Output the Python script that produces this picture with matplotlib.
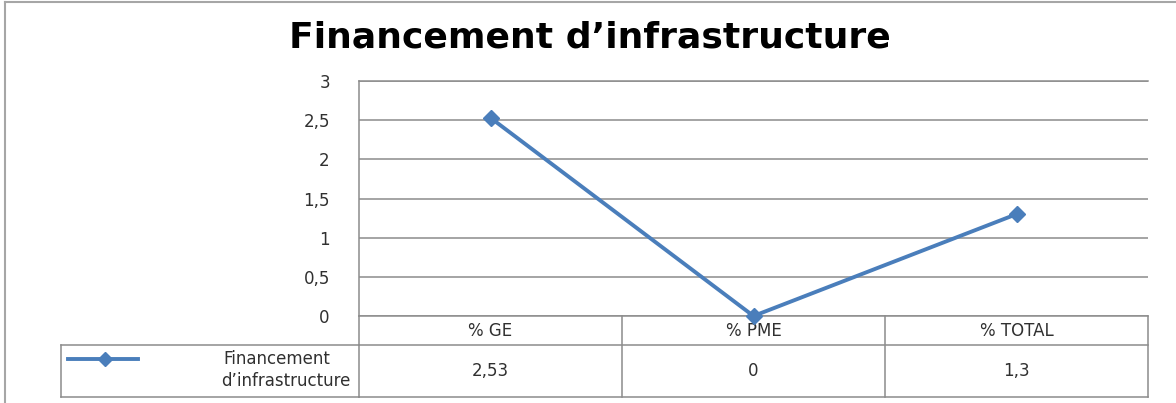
import matplotlib.pyplot as plt
from matplotlib.transforms import blended_transform_factory

# series
categories = ["% GE", "% PME", "% TOTAL"]
series_name = "Financement d\u2019infrastructure"
values = [2.53, 0, 1.3]
y_ticks = [0, 0.5, 1, 1.5, 2, 2.5, 3]

W, H = 1176, 403
blue = "#4A7EBB"
grey = "#8c8c8c"
txt = "#303030"
fs = 12


def fr(v):
    # french decimal comma
    return f"{v:g}".replace(".", ",")


fig = plt.figure(figsize=(W / 100, H / 100), dpi=100)

# overlay in pixel coords for frame, data table and legend key
over = fig.add_axes([0, 0, 1, 1], zorder=0)
over.set_xlim(0, W)
over.set_ylim(H, 0)
over.axis("off")

left, right, top, bottom = 359, 1148, 81, 316
ax = fig.add_axes([left / W, 1 - bottom / H, (right - left) / W, (bottom - top) / H], zorder=1)
ax.patch.set_alpha(0)

n = len(categories)
xs = [i + 0.5 for i in range(n)]
ax.plot(xs, values, color=blue, lw=2.8, marker="D", ms=8, mec=blue, mfc=blue,
        clip_on=False, zorder=5)
ax.set_xlim(0, n)
ax.set_ylim(0, 3)
ax.set_yticks(y_ticks)
ax.set_yticklabels([fr(t) for t in y_ticks], fontsize=fs, color=txt)
ax.set_xticks([])
ax.tick_params(axis="y", length=0, pad=21)
ax.grid(axis="y", color=grey, lw=1.1)
ax.spines["right"].set_visible(False)
for s in ["left", "bottom", "top"]:
    ax.spines[s].set_color(grey)
    ax.spines[s].set_linewidth(1.1)

fig.text(590 / W, 1 - 37 / H, series_name, ha="center", va="center",
         fontsize=26, fontweight="bold", color="black")

# outer chart frame
over.plot([5, 5], [2, H], color="#a6a6a6", lw=1.5)
over.plot([5, W], [2, 2], color="#a6a6a6", lw=1.5)

# data table below the plot
tr = blended_transform_factory(ax.transData, over.transData)
row1, row2, row3 = 316, 345, 397
for i in range(n + 1):
    over.plot([i, i], [row1, row3], color=grey, lw=1.1, transform=tr, clip_on=False)
over.plot([0, n], [row2, row2], color=grey, lw=1.1, transform=tr, clip_on=False)
over.plot([0, n], [row3, row3], color=grey, lw=1.1, transform=tr, clip_on=False)
over.plot([61, left], [row2, row2], color=grey, lw=1.1)
over.plot([61, left], [row3, row3], color=grey, lw=1.1)
over.plot([61, 61], [row2, row3], color=grey, lw=1.1)

for x, c, v in zip(xs, categories, values):
    over.text(x, (row1 + row2) / 2, c, transform=tr, ha="center", va="center",
              fontsize=fs, color=txt)
    over.text(x, (row2 + row3) / 2, fr(v), transform=tr, ha="center", va="center",
              fontsize=fs, color=txt)

# legend key inside the table
over.plot([68, 138], [359, 359], color=blue, lw=2.8)
over.plot([105], [359], color=blue, marker="D", ms=7.5)
first, second = series_name.split(" ", 1)
over.text(330, 359, first, ha="right", va="center", fontsize=fs, color=txt)
over.text(350, 381, second, ha="right", va="center", fontsize=fs, color=txt)

fig.savefig("out.png", dpi=100)
